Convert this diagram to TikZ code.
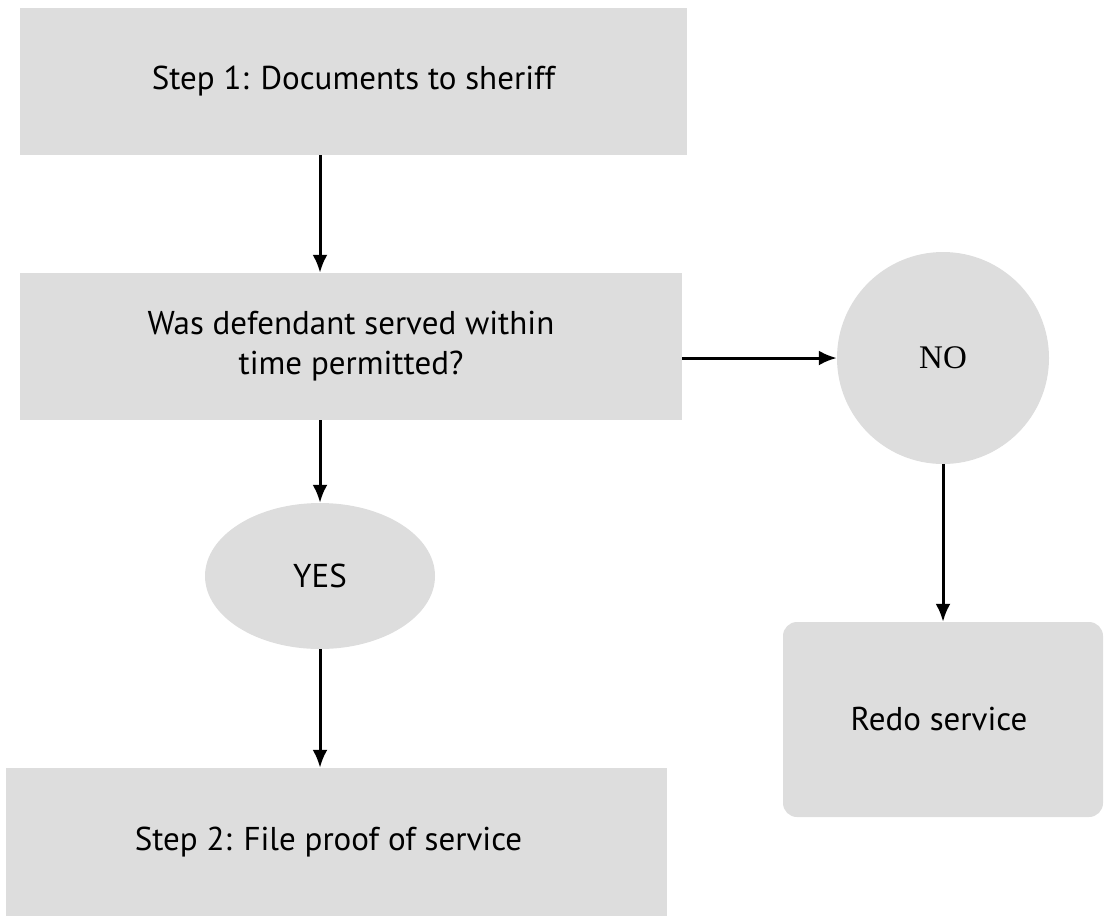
\documentclass[tikz,border=0pt]{standalone}
\usepackage{fontspec}
\setmainfont{PT Sans}
\newfontfamily\noserif{Liberation Serif}
\usetikzlibrary{arrows.meta,shapes.geometric,calc}
\definecolor{boxgray}{RGB}{221,221,221}
\tikzset{
  boxnode/.style={fill=boxgray,draw=none,inner sep=0pt,align=center,font=\fontsize{33}{40}\selectfont},
  arr/.style={-{Latex[length=18pt,width=15pt]},line width=3pt,black},
}
\begin{document}
\begin{tikzpicture}[x=1pt,y=-1pt]
\useasboundingbox (0,0) rectangle (1107,916);
\node[boxnode,minimum width=667pt,minimum height=147pt] (b1) at (353.5,81.5) {Step 1: Documents to sheriff};
\node[boxnode,minimum width=662pt,minimum height=147pt] (b2) at (351,346.5) {Was defendant served within\\time permitted?};
\node[boxnode,circle,minimum size=212pt] (no) at (943,358) {\noserif\raisebox{-4pt}{NO}};
\node[boxnode,ellipse,minimum width=230pt,minimum height=146pt] (yes) at (320,576) {YES};
\node[boxnode,rounded corners=14pt,minimum width=320pt,minimum height=195pt] (redo) at (943,719.5) {Redo service\hspace*{8pt}};
\node[boxnode,minimum width=661pt,minimum height=148pt] (b3) at (336.5,842) {Step 2: File proof of service\hspace*{16pt}};
\draw[arr] (b1.south -| yes.north) -- (b2.north -| yes.north);
\draw[arr] (b2.south -| yes.north) -- (yes.north);
\draw[arr] (yes.south) -- (yes.south |- b3.north);
\draw[arr] (no.west -| b2.east) -- (no.west);
\draw[arr] (no.south) -- (redo.north);
\end{tikzpicture}
\end{document}
